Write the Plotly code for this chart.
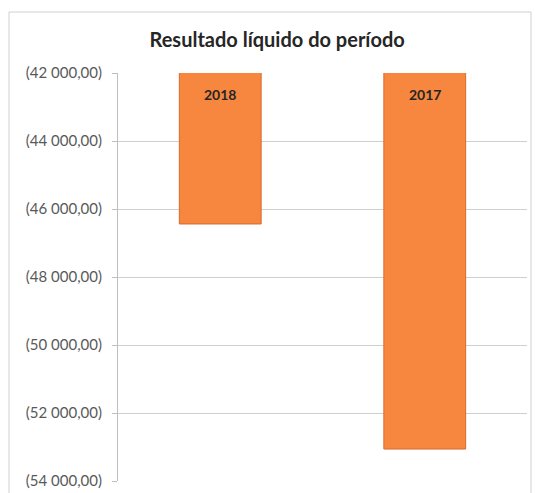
import plotly.graph_objects as go

categories = ["2018", "2017"]
values = [-46440, -53060]
tick_vals = [-42000, -44000, -46000, -48000, -50000, -52000, -54000]
tick_text = ["(42 000,00)", "(44 000,00)", "(46 000,00)", "(48 000,00)",
             "(50 000,00)", "(52 000,00)", "(54 000,00)"]
title = "Resultado líquido do período"

fig = go.Figure()
fig.add_trace(go.Bar(
    x=categories, y=values,
    marker=dict(color="#F7873F", line=dict(color="#D9692A", width=1)),
    hoverinfo="skip",
))

for i, c in enumerate(categories):
    fig.add_annotation(x=i, y=tick_vals[0], yref="y", xref="x", text="<b>%s</b>" % c,
                       showarrow=False, yanchor="top", yshift=-11,
                       font=dict(family="Lato, Open Sans, sans-serif", size=14, color="#262626"))

fig.update_layout(
    width=535, height=493,
    margin=dict(l=118, r=8, t=73, b=12, autoexpand=False),
    paper_bgcolor="white", plot_bgcolor="white",
    bargap=0.6,
    showlegend=False,
    title=dict(text="<b>%s</b>" % title, x=0.518, xref="container", xanchor="center",
               y=0.918, yref="container", yanchor="middle",
               font=dict(family="Lato, Open Sans, sans-serif", size=20, color="#262626")),
    xaxis=dict(type="category", categoryorder="array", categoryarray=categories,
               range=[-0.5, len(categories) - 0.5], autorange=False,
               showticklabels=False, showgrid=False, zeroline=False, showline=False),
    yaxis=dict(range=[-54000, -42000], tickvals=tick_vals, ticktext=tick_text,
               automargin=False,
               showgrid=True, gridcolor="#CFCFCF", gridwidth=1, zeroline=False,
               showline=True, linecolor="#BFBFBF", linewidth=1,
               ticks="outside", ticklen=5, tickcolor="#BFBFBF", ticklabelstandoff=7,
               tickfont=dict(family="Lato, Open Sans, sans-serif", size=15, color="#595959")),
    shapes=[dict(type="rect", xref="paper", yref="paper",
                 x0=-109/409, x1=1 + 4/409, y0=-20/408, y1=1 + 61/408,
                 line=dict(color="#D0D0D0", width=1), fillcolor="rgba(0,0,0,0)")],
)

fig.write_html("out.html", config={"displayModeBar": False},
               post_script="document.body.style.margin='0';document.body.style.overflow='hidden';")
